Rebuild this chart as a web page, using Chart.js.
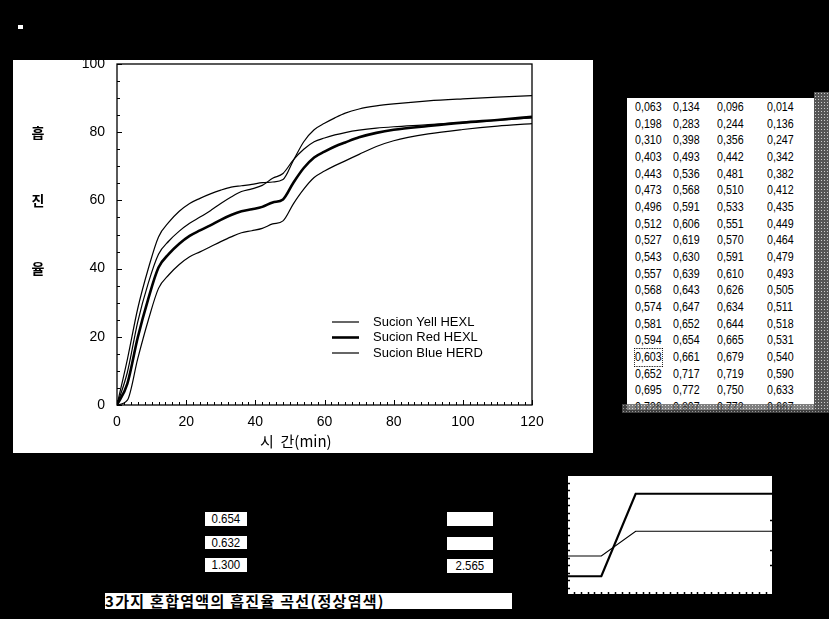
<!DOCTYPE html>
<html>
<head>
<meta charset="utf-8">
<script src="https://cdn.jsdelivr.net/npm/chart.js@4.4.1/dist/chart.umd.min.js"></script>
<style>
  body { margin: 0; background: #000; width: 829px; height: 619px; overflow: hidden; position: relative; font-family: "Liberation Sans", Arial, sans-serif; }
  .abs { position: absolute; }
  #plotBox { left: 13px; top: 60px; width: 580px; height: 393px; background: #fff; }
  #table { left: 627px; top: 98px; width: 189px; height: 312px; background: #fff; overflow: hidden; }
  #table .row { position: absolute; left: 0; height: 16.67px; line-height: 16.67px; width: 189px; }
  #table .cell { position: absolute; top: 0; font-family: "Liberation Sans", Arial, sans-serif; font-size: 13px; color: #000; transform: scaleX(0.82); transform-origin: left center; }
  #table .focus { outline: 1px dotted #000; }
  .speckle { background-color: #555; background-image: radial-gradient(#ccc 0.7px, transparent 1px); background-size: 3px 3px; }
  .box { background: #fff; color: #000; font-size: 13.5px; line-height: 14px; text-align: center; font-family: "Liberation Sans", Arial, sans-serif; }
  .box span { display: inline-block; transform: scaleX(0.85); }
  #caption { left: 105px; top: 593px; width: 407px; height: 16px; background: #fff; color: #000; font-family: "Noto Sans CJK KR", sans-serif; font-weight: bold; font-size: 15px; letter-spacing: 1.3px; line-height: 16px; white-space: nowrap; overflow: hidden; }
  #miniBox { left: 567px; top: 475px; width: 206px; height: 120px; background: #fff; }
</style>
</head>
<body>

<div class="abs" style="left:18px;top:25px;width:5px;height:4px;background:#fff"></div>

<div id="plotBox" class="abs"><canvas id="uptakeChart" width="580" height="393"></canvas></div>

<div id="table" class="abs"></div>
<div class="abs speckle" style="left:814px;top:92px;width:15px;height:318px"></div>
<div class="abs speckle" style="left:622px;top:404px;width:207px;height:9px;opacity:0.75"></div>

<div class="abs box" style="left:205px;top:512px;width:42px;height:14px"><span>0.654</span></div>
<div class="abs box" style="left:205px;top:536px;width:42px;height:13px"><span>0.632</span></div>
<div class="abs box" style="left:205px;top:558px;width:42px;height:14px"><span>1.300</span></div>
<div class="abs box" style="left:447px;top:512px;width:46px;height:14px"></div>
<div class="abs box" style="left:447px;top:537px;width:46px;height:13px"></div>
<div class="abs box" style="left:447px;top:559px;width:46px;height:14px"><span>2.565</span></div>

<div id="caption" class="abs">3가지 혼합염액의 흡진율 곡선(정상염색)</div>

<div id="miniBox" class="abs"><canvas id="stepChart" width="206" height="120"></canvas></div>

<script>
// time axis (min) and uptake (%) for the four dye baths
const times = [0, 3, 6, 9, 12, 15, 18, 21, 24, 27, 30, 33, 36, 39, 42, 45, 48, 51, 54, 57,
  60, 63, 66, 70, 75, 80, 90, 100, 110, 120];
const redHexl = [0, 6.3, 19.8, 31.0, 40.3, 44.3, 47.3, 49.6, 51.2, 52.7, 54.3, 55.7, 56.8, 57.4, 58.1, 59.4, 60.3, 65.2, 69.5, 72.6,
  74.3, 75.8, 77.0, 78.5, 79.8, 80.7, 81.8, 82.8, 83.6, 84.5];
const yellHexl = [0, 13.4, 28.3, 39.8, 49.3, 53.6, 56.8, 59.1, 60.6, 61.9, 63.0, 63.9, 64.3, 64.7, 65.2, 65.4, 66.1, 71.7, 77.2, 80.7,
  82.6, 84.2, 85.6, 86.8, 87.7, 88.3, 89.2, 89.8, 90.3, 90.7];
const blueHerd = [0, 9.6, 24.4, 35.6, 44.2, 48.1, 51.0, 53.3, 55.1, 57.0, 59.1, 61.0, 62.6, 63.4, 64.4, 66.5, 67.9, 71.9, 75.0, 77.2,
  78.3, 79.2, 79.9, 80.6, 81.2, 81.6, 82.2, 82.9, 83.5, 84.2];
const mixBath = [0, 1.4, 13.6, 24.7, 34.2, 38.2, 41.2, 43.5, 44.9, 46.4, 47.9, 49.3, 50.5, 51.1, 51.8, 53.1, 54.0, 59.0, 63.3, 66.7,
  68.6, 70.2, 71.6, 73.5, 75.8, 77.5, 79.5, 80.8, 81.8, 82.5];
const xTicks = [0, 20, 40, 60, 80, 100, 120];
const yTicks = [0, 20, 40, 60, 80, 100];

// small step profile (bottom right)
const stepX = [0, 5, 10, 30];
const stepThick = [2.5, 2.5, 13.5, 13.5];
const stepThin = [5.2, 5.2, 8.5, 8.5];

const toPoints = (xs, ys) => xs.map((x, i) => ({ x: x, y: ys[i] }));

// value table: one row per 3 min sample, columns red / yell / blue / mix
const tableCols = [redHexl, yellHexl, blueHerd, mixBath];
const colLeft = [8, 46, 90, 140];
const tableEl = document.getElementById("table");
for (let i = 1; i <= 19; i++) {
  const row = document.createElement("div");
  row.className = "row";
  row.style.top = (1 + (i - 1) * 16.67) + "px";
  tableCols.forEach((col, c) => {
    const cell = document.createElement("span");
    cell.className = "cell";
    if (i === 16 && c === 0) cell.className += " focus";
    cell.style.left = colLeft[c] + "px";
    cell.textContent = (col[i] / 100).toFixed(3).replace(".", ",");
    row.appendChild(cell);
  });
  tableEl.appendChild(row);
}

const frame = {
  id: "frame",
  afterDraw(chart) {
    const { ctx, chartArea: a, scales: { x, y } } = chart;
    ctx.save();
    ctx.strokeStyle = "#000";
    ctx.lineWidth = 1.3;
    ctx.strokeRect(a.left, a.top, a.right - a.left, a.bottom - a.top);
    ctx.lineWidth = 1;
    ctx.beginPath();
    for (let v = 0; v <= 120; v += 2) {
      const px = Math.round(x.getPixelForValue(v)) + 0.5;
      const len = v % 20 === 0 ? 5 : 3;
      ctx.moveTo(px, a.bottom);
      ctx.lineTo(px, a.bottom - len);
    }
    for (let v = 0; v <= 100; v += 5) {
      const py = Math.round(y.getPixelForValue(v)) + 0.5;
      const len = v % 20 === 0 ? 5 : 3;
      ctx.moveTo(a.left, py);
      ctx.lineTo(a.left + len, py);
    }
    ctx.stroke();

    // vertical axis title, one syllable per line
    ctx.fillStyle = "#000";
    ctx.font = "bold 14px 'Noto Sans CJK KR'";
    ctx.textAlign = "center";
    ctx.textBaseline = "middle";
    ["흡", "진", "율"].forEach((s, i) => {
      ctx.fillText(s, 25, y.getPixelForValue(80 - i * 20));
    });

    // horizontal axis title
    ctx.font = "15px 'Noto Sans CJK KR'";
    ctx.textAlign = "left";
    ctx.fillText("시  간(min)", 247, 381);

    // legend
    ctx.font = "13px 'Liberation Sans', Arial";
    const legendItems = chart.data.datasets.filter(d => d.inLegend);
    legendItems.forEach((d, i) => {
      const ly = 262 + i * 15.5;
      ctx.lineWidth = d.borderWidth;
      ctx.beginPath();
      ctx.moveTo(319, ly);
      ctx.lineTo(346, ly);
      ctx.stroke();
      ctx.fillText(d.label, 360, ly);
    });
    ctx.restore();
  }
};

const lineDs = (label, data, width, inLegend) => ({
  label: label,
  data: toPoints(times, data),
  borderColor: "#000",
  borderWidth: width,
  pointRadius: 0,
  fill: false,
  cubicInterpolationMode: "monotone",
  inLegend: inLegend,
});

new Chart(document.getElementById("uptakeChart"), {
  type: "line",
  data: {
    datasets: [
      lineDs("Sucion Yell HEXL", yellHexl, 1.2, true),
      lineDs("Sucion Red HEXL", redHexl, 2.6, true),
      lineDs("Sucion Blue HERD", blueHerd, 1.2, true),
      lineDs("mix", mixBath, 1.2, false),
    ],
  },
  options: {
    responsive: false,
    animation: false,
    layout: { padding: { top: 4, right: 61, left: 0, bottom: 0 } },
    plugins: { legend: { display: false }, tooltip: { enabled: false } },
    scales: {
      x: {
        type: "linear",
        min: 0,
        max: 120,
        afterFit: (s) => { s.height = 48; s.paddingLeft = 0; s.paddingRight = 0; },
        afterBuildTicks: (s) => { s.ticks = xTicks.map(v => ({ value: v })); },
        grid: { display: false, drawTicks: false },
        border: { display: false },
        ticks: { color: "#000", padding: 9, font: { size: 14, family: "'Liberation Sans', Arial" } },
      },
      y: {
        type: "linear",
        min: 0,
        max: 100,
        afterFit: (s) => { s.width = 104; s.paddingTop = 0; s.paddingBottom = 0; },
        afterBuildTicks: (s) => { s.ticks = yTicks.map(v => ({ value: v })); },
        grid: { display: false, drawTicks: false },
        border: { display: false },
        ticks: { color: "#000", padding: 12, font: { size: 14, family: "'Liberation Sans', Arial" } },
      },
    },
  },
  plugins: [frame],
});

const stepFrame = {
  id: "stepFrame",
  afterDraw(chart) {
    const { ctx, chartArea: a, scales: { x, y } } = chart;
    ctx.save();
    ctx.strokeStyle = "#000";
    ctx.lineWidth = 1;
    ctx.strokeRect(a.left + 0.5, a.top + 0.5, a.right - a.left - 1, a.bottom - a.top - 1);
    ctx.lineWidth = 1.5;
    ctx.beginPath();
    for (let v = 1; v < 16; v++) {
      const py = Math.round(y.getPixelForValue(v)) + 0.5;
      ctx.moveTo(a.left, py);
      ctx.lineTo(a.left + 3, py);
    }
    for (let v = 1; v < 30; v++) {
      const px = Math.round(x.getPixelForValue(v)) + 0.5;
      ctx.moveTo(px, a.bottom);
      ctx.lineTo(px, a.bottom - 3);
    }
    [4, 6, 10].forEach(v => {
      const py = Math.round(y.getPixelForValue(v)) + 0.5;
      ctx.moveTo(a.right, py);
      ctx.lineTo(a.right - 3, py);
    });
    ctx.stroke();
    ctx.restore();
  }
};

new Chart(document.getElementById("stepChart"), {
  type: "line",
  data: {
    datasets: [
      { data: toPoints(stepX, stepThick), borderColor: "#000", borderWidth: 2.2, pointRadius: 0, tension: 0 },
      { data: toPoints(stepX, stepThin), borderColor: "#000", borderWidth: 1.2, pointRadius: 0, tension: 0 },
    ],
  },
  options: {
    responsive: false,
    animation: false,
    layout: { padding: 0 },
    plugins: { legend: { display: false }, tooltip: { enabled: false } },
    scales: {
      x: { type: "linear", min: 0, max: 30, display: false },
      y: { type: "linear", min: 0, max: 16, display: false },
    },
  },
  plugins: [stepFrame],
});
</script>
</body>
</html>
